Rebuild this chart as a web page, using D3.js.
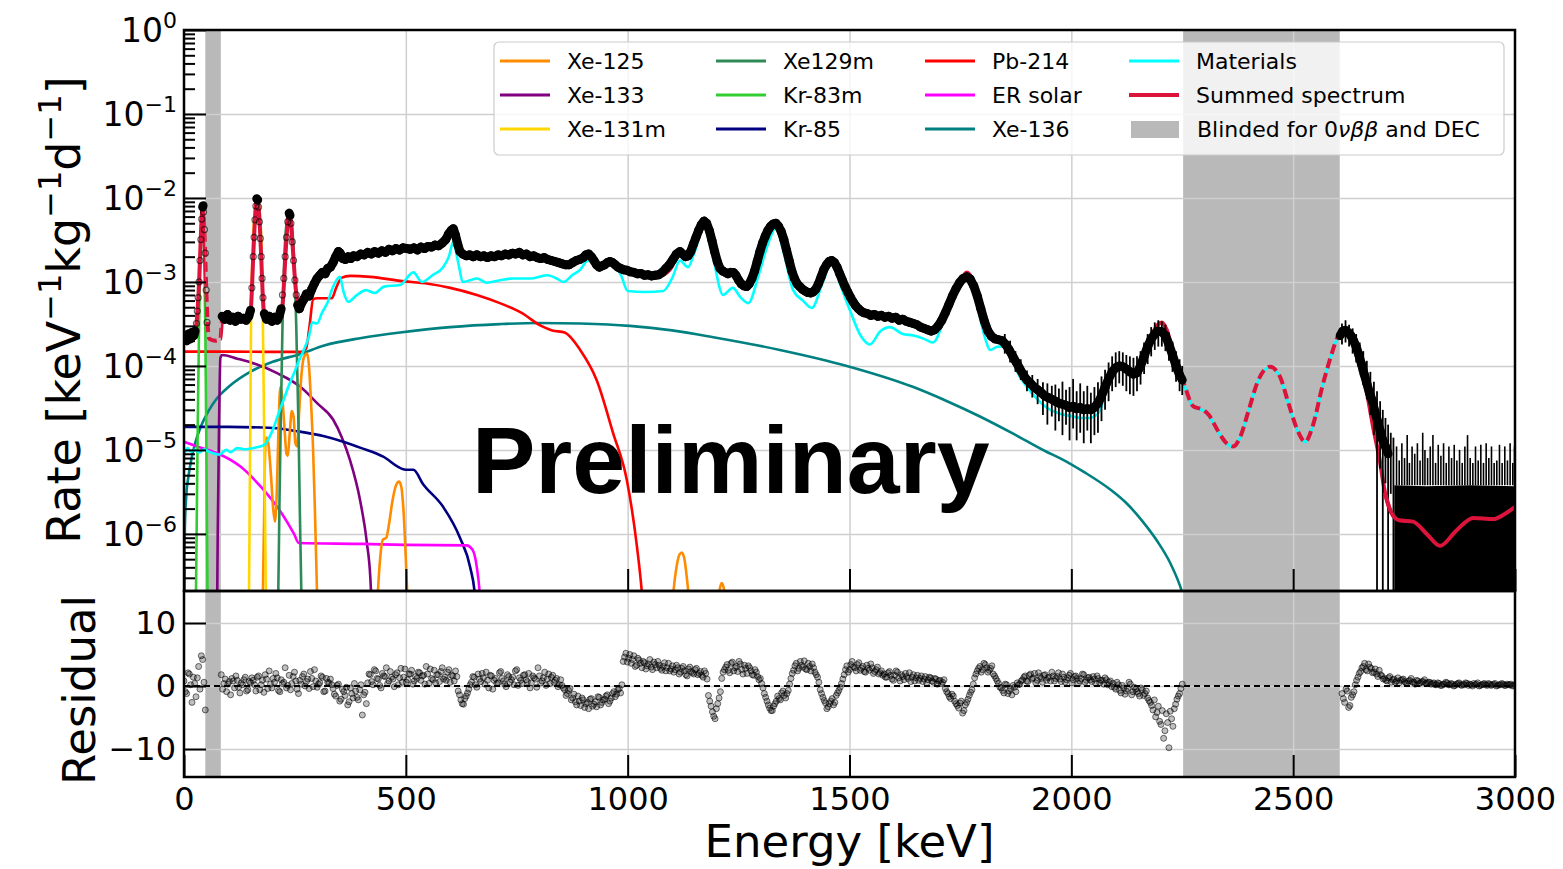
<!DOCTYPE html>
<html>
<head>
<meta charset="utf-8">
<script src="https://cdn.jsdelivr.net/npm/d3@7"></script>
<style>
  body { margin: 0; background: #fff; }
</style>
</head>
<body>
<svg id="chart" width="1563" height="869" font-family="DejaVu Sans, sans-serif"></svg>
<script>
// ---- values (energy in keV, rate in /keV/kg/d) ----
var xTicks = [0, 500, 1000, 1500, 2000, 2500, 3000];
var yDecades = [0, -1, -2, -3, -4, -5, -6];
var resTicks = [10, 0, -10];
var blindBands = [[48, 83], [2252, 2605]];

var legendNames = ["Xe-125", "Xe-133", "Xe-131m", "Xe129m", "Kr-83m", "Kr-85",
                   "Pb-214", "ER solar", "Xe-136", "Materials", "Summed spectrum", "Blinded"];
var legendColors = ["#ff8c00", "#800080", "#ffd700", "#2e8b57", "#32cd32", "#000080",
                    "#ff0000", "#ff00ff", "#008080", "#00ffff", "#dc143c", "#808080"];

var xe125 = [
  [[176,5e-8],[180,1e-6],[183,1e-5],[186,1.4e-5],[190,1.2e-5],[196,5e-6],[201,2e-6],[205,1.4e-6],[209,3e-6],[213,1.8e-5],[217,5.6e-5],[221,4.5e-5],[226,2e-5],[231,9e-6],[234,8.5e-6],[238,1.5e-5],[243,2.9e-5],[247,2.5e-5],[251,1.2e-5],[255,1.1e-5],[259,2.5e-5],[264,7e-5],[269,1.2e-4],[273,1.35e-4],[277,1.4e-4],[281,1.1e-4],[286,4e-5],[291,1e-5],[295,2e-6],[299,3e-7],[302,5e-8]],
  [[432,5e-8],[437,2e-7],[442,5e-7],[448,8.5e-7],[456,9e-7],[462,1.3e-6],[470,2.5e-6],[478,3.8e-6],[485,4.2e-6],[490,3.6e-6],[495,1.8e-6],[500,5e-7],[504,1.5e-7],[508,5e-8]],
  [[1095,5e-8],[1103,2e-7],[1110,4e-7],[1117,5.7e-7],[1122,6e-7],[1128,5e-7],[1135,2.5e-7],[1142,1e-7],[1148,5e-8]],
  [[1200,8e-8],[1207,2.1e-7],[1212,2.6e-7],[1217,2.2e-7],[1224,8e-8]]
];
var xe133 = [[74,5e-8],[76,1e-6],[79,2e-5],[82,1.25e-4],[86,1.35e-4],[120,1.22e-4],[151,1.1e-4],[210,8.2e-5],[263,5.6e-5],[300,3.6e-5],[336,2.3e-5],[356,1.4e-5],[374,7.6e-6],[397,2.5e-6],[412,8e-7],[420,3e-7],[426,5e-8]];
var xe131m = [[144,5e-8],[146.5,2e-7],[148,2e-6],[149.5,2e-5],[151,2.7e-4],[155,2.5e-3],[160,7.5e-3],[165,1e-2],[170,7.5e-3],[175,2.5e-3],[178,2.7e-4],[180.5,2e-5],[182.5,2e-6],[184.5,2e-7],[187,5e-8]];
var xe129m = [[208,5e-8],[212.5,2e-7],[215,2e-6],[218,2e-5],[222,3e-4],[227,2.5e-3],[232,5.5e-3],[237,7e-3],[242,5.5e-3],[247,2.5e-3],[253,3e-4],[258,2e-5],[261,2e-6],[264.5,2e-7],[268,5e-8]];
var kr83m = [[24,5e-8],[27,2e-7],[29,2e-6],[31,2e-5],[34,3e-4],[37,2.5e-3],[41,7.5e-3],[45,2.5e-3],[48,3e-4],[50,2e-5],[51.5,2e-6],[53,2e-7],[56,5e-8]];
var kr85 = [[0,1.88e-5],[100,1.88e-5],[200,1.82e-5],[261,1.65e-5],[316,1.45e-5],[359,1.25e-5],[400,1.05e-5],[449,8.3e-6],[494,5.9e-6],[505,5.8e-6],[517,5.8e-6],[539,3.9e-6],[584,2.1e-6],[622,9e-7],[645,4e-7],[656,1.8e-7],[662,5e-8]];
var pb214 = [[0,1.48e-4],[100,1.48e-4],[200,1.47e-4],[264,1.47e-4],[275,1.6e-4],[283,3e-4],[291,6.2e-4],[300,6.4e-4],[333,6.4e-4],[343,8.5e-4],[355,1.12e-3],[374,1.18e-3],[420,1.15e-3],[487,1.03e-3],[550,9.5e-4],[600,8.5e-4],[660,7.0e-4],[712,5.6e-4],[760,4.3e-4],[805,3.0e-4],[830,2.65e-4],[858,2.5e-4],[893,1.55e-4],[930,6.8e-5],[967,1.6e-5],[998,4.4e-6],[1021,7e-7],[1032,2e-7],[1040,5e-8]];
var erSolar = [[0,1.25e-5],[30,1.1e-5],[74,9.2e-6],[128,6.3e-6],[174,3.6e-6],[219,1.8e-6],[248,1.0e-6],[259,7.8e-7],[400,7.6e-7],[500,7.4e-7],[637,7.3e-7],[650,6.5e-7],[660,4e-7],[668,1.5e-7],[672,5e-8]];
var xe136 = [[0,2e-7],[2,1.2e-6],[5,2.8e-6],[10,4.8e-6],[15,7e-6],[25,1.2e-5],[38,1.9e-5],[55,2.9e-5],[74,4.1e-5],[100,5.6e-5],[151,8.6e-5],[200,1.12e-4],[261,1.38e-4],[316,1.75e-4],[400,2.15e-4],[487,2.5e-4],[600,2.9e-4],[712,3.15e-4],[800,3.25e-4],[893,3.2e-4],[1005,3.0e-4],[1100,2.65e-4],[1193,2.2e-4],[1343,1.55e-4],[1494,1.0e-4],[1644,5.6e-5],[1720,3.8e-5],[1794,2.5e-5],[1870,1.55e-5],[1944,9.5e-6],[1974,8.0e-6],[2030,5.4e-6],[2087,3.4e-6],[2125,2.3e-6],[2161,1.4e-6],[2195,8e-7],[2222,4.6e-7],[2245,2.4e-7],[2262,1.2e-7]];
var materials = [[0,8.5e-6],[8,1.05e-5],[15,9.5e-6],[25,1.0e-5],[35,9.3e-6],[45,1.02e-5],[55,9.6e-6],[70,9.0e-6],[80,8.8e-6],[95,1.0e-5],[105,9.4e-6],[120,1.05e-5],[140,1.02e-5],[160,1.06e-5],[181,1.15e-5],[192,1.4e-5],[203,1.9e-5],[214,2.8e-5],[225,4e-5],[236,5.8e-5],[248,8.2e-5],[259,1.15e-4],[270,1.55e-4],[282,2.3e-4],[289,3.3e-4],[300,3.2e-4],[311,4.3e-4],[323,5.6e-4],[335,8.5e-4],[351,1.15e-3],[360,7.5e-4],[370,5.8e-4],[390,7e-4],[410,8e-4],[430,7.4e-4],[451,8.8e-4],[487,9.2e-4],[517,1.3e-3],[536,1.0e-3],[560,1.2e-3],[584,1.5e-3],[597,2.0e-3],[607,3.0e-3],[617,1.8e-3],[629,1.0e-3],[645,1.05e-3],[660,1.1e-3],[683,9.8e-4],[712,1.05e-3],[742,1.1e-3],[780,1.1e-3],[818,1.2e-3],[840,1.1e-3],[855,1.0e-3],[875,1.2e-3],[893,1.4e-3],[911,1.8e-3],[937,1.45e-3],[965,1.6e-3],[985,1.2e-3],[1000,7.8e-4],[1040,7.6e-4],[1080,7.8e-4],[1100,1.1e-3],[1118,1.8e-3],[1136,1.5e-3],[1150,2.2e-3],[1172,4.5e-3],[1190,2.2e-3],[1215,7e-4],[1237,8.5e-4],[1255,6.5e-4],[1272,5.6e-4],[1295,1.2e-3],[1315,2.7e-3],[1334,4.4e-3],[1352,2.2e-3],[1373,8e-4],[1395,6e-4],[1415,4.9e-4],[1440,1.0e-3],[1460,1.7e-3],[1480,9e-4],[1501,4.6e-4],[1525,2.3e-4],[1546,1.8e-4],[1570,2.6e-4],[1591,2.9e-4],[1620,2.4e-4],[1644,2.3e-4],[1668,2.1e-4],[1688,1.9e-4],[1720,4.5e-4],[1745,8.5e-4],[1764,1.05e-3],[1785,6e-4],[1805,2.2e-4],[1817,1.55e-4],[1835,1.7e-4],[1850,1.7e-4],[1884,7.4e-5],[1915,4.5e-5],[1944,3.2e-5],[1975,2.7e-5],[2004,2.5e-5],[2019,2.4e-5],[2040,2.4e-5],[2060,2.7e-5],[2080,5.2e-5],[2095,8.2e-5],[2110,1.0e-4],[2125,9.3e-5],[2140,8e-5],[2150,8.3e-5],[2165,1.28e-4],[2180,2.15e-4],[2195,3.05e-4],[2204,3.25e-4],[2215,2.65e-4],[2230,1.38e-4],[2245,7.9e-5],[2252,6.4e-5],[2275,3.25e-5],[2297,2.95e-5],[2310,2.55e-5],[2330,1.68e-5],[2350,1.19e-5],[2365,1.09e-5],[2380,1.38e-5],[2400,2.95e-5],[2420,6.4e-5],[2448,9.7e-5],[2470,7.4e-5],[2490,3.45e-5],[2510,1.68e-5],[2527,1.24e-5],[2545,1.97e-5],[2565,5.4e-5],[2585,1.28e-4],[2600,2.17e-4],[2612,2.55e-4],[2630,2.15e-4],[2644,1.37e-4],[2655,8.3e-5],[2666,4.7e-5],[2680,1.85e-5],[2695,7.4e-6],[2707,3.0e-6],[2721,1.75e-6],[2739,1.4e-6],[2770,1.35e-6],[2801,9.7e-7],[2831,7e-7],[2868,1.07e-6],[2906,1.5e-6],[2951,1.45e-6],[2975,1.65e-6],[3000,2.05e-6]];
var summed = [[0,2.1e-4],[10,2.2e-4],[20,2.4e-4],[27,2.9e-4],[31,5e-4],[34,1e-3],[37,2.6e-3],[40,6e-3],[42,8e-3],[44,6.6e-3],[47,2.8e-3],[50,9e-4],[53,3.4e-4],[57,2.1e-4],[70,2.0e-4],[82,2.1e-4],[86,3.6e-4],[95,3.7e-4],[120,3.7e-4],[145,3.8e-4],[150,4.3e-4],[153,8e-4],[156,2e-3],[159,4.5e-3],[162,8e-3],[165,1e-2],[168,8e-3],[171,4.5e-3],[174,2e-3],[177,8e-4],[180,4.5e-4],[185,3.8e-4],[200,3.7e-4],[215,3.9e-4],[221,4.6e-4],[225,9e-4],[229,2.2e-3],[233,4.6e-3],[237,6.8e-3],[241,5e-3],[245,2.6e-3],[250,1.1e-3],[255,6e-4],[260,4.8e-4],[270,6e-4],[286,7.5e-4],[300,1.1e-3],[323,1.4e-3],[340,1.9e-3],[350,2.3e-3],[360,1.9e-3],[380,1.95e-3],[406,2.1e-3],[451,2.3e-3],[502,2.5e-3],[561,2.7e-3],[590,3.2e-3],[607,4.2e-3],[620,2.7e-3],[640,2.1e-3],[705,2.0e-3],[757,2.15e-3],[818,1.9e-3],[863,1.6e-3],[893,1.8e-3],[911,2.1e-3],[937,1.5e-3],[965,1.7e-3],[985,1.45e-3],[1005,1.35e-3],[1073,1.2e-3],[1095,1.4e-3],[1118,2.2e-3],[1136,1.9e-3],[1150,2.6e-3],[1160,3.9e-3],[1172,5.2e-3],[1185,3.9e-3],[1200,2e-3],[1215,1.35e-3],[1235,1.25e-3],[1255,1.0e-3],[1268,9e-4],[1285,1.3e-3],[1300,2.3e-3],[1318,3.9e-3],[1334,5e-3],[1350,3.6e-3],[1365,1.7e-3],[1380,9.5e-4],[1400,8e-4],[1418,7.6e-4],[1435,1.1e-3],[1448,1.6e-3],[1460,1.85e-3],[1475,1.4e-3],[1494,8e-4],[1515,5.5e-4],[1531,4.3e-4],[1560,3.9e-4],[1591,3.8e-4],[1620,3.5e-4],[1644,3.2e-4],[1670,2.8e-4],[1688,2.5e-4],[1710,3.5e-4],[1730,6e-4],[1750,1.0e-3],[1764,1.3e-3],[1778,1.05e-3],[1795,5e-4],[1810,2.4e-4],[1830,2.1e-4],[1846,2.0e-4],[1865,1.4e-4],[1884,9e-5],[1910,6e-5],[1944,4.2e-5],[1975,3.5e-5],[2000,3.1e-5],[2030,2.9e-5],[2049,3.0e-5],[2065,3.6e-5],[2080,5.3e-5],[2095,8.4e-5],[2110,1.02e-4],[2125,9.5e-5],[2140,8.2e-5],[2150,8.5e-5],[2165,1.3e-4],[2180,2.2e-4],[2195,3.1e-4],[2204,3.3e-4],[2215,2.7e-4],[2230,1.4e-4],[2245,8e-5],[2252,6.5e-5],[2275,3.3e-5],[2297,3.0e-5],[2310,2.6e-5],[2330,1.7e-5],[2350,1.2e-5],[2365,1.1e-5],[2380,1.4e-5],[2400,3e-5],[2420,6.5e-5],[2448,9.8e-5],[2470,7.5e-5],[2490,3.5e-5],[2510,1.7e-5],[2527,1.25e-5],[2545,2e-5],[2565,5.5e-5],[2585,1.3e-4],[2600,2.2e-4],[2612,2.6e-4],[2630,2.2e-4],[2644,1.4e-4],[2655,8.5e-5],[2666,4.8e-5],[2680,1.9e-5],[2695,7.6e-6],[2707,3.1e-6],[2721,1.8e-6],[2739,1.45e-6],[2770,1.4e-6],[2801,1.0e-6],[2831,7.2e-7],[2868,1.1e-6],[2906,1.55e-6],[2951,1.5e-6],[2975,1.7e-6],[3000,2.1e-6]];

// measured spectrum (black points)
var dataPts = [[2,2.3e-4],[6,2.0e-4],[10,2.4e-4],[14,2.1e-4],[18,2.5e-4],[22,2.3e-4],[25,2.6e-4],[28,3.2e-4],[30,4.5e-4],[32,6.5e-4],[34,1.0e-3],[36,1.8e-3],[38,3.2e-3],[40,5.6e-3],[42,7.8e-3],[43,8.1e-3],[44,6.8e-3],[46,4.2e-3],[48,2.2e-3],[50,8e-4],[52,3.3e-4],
  [86,3.9e-4],[92,3.6e-4],[98,4.1e-4],[104,3.5e-4],[110,3.8e-4],[116,3.4e-4],[122,3.9e-4],[128,3.6e-4],[134,3.7e-4],[140,3.5e-4],[146,3.9e-4],[150,4.6e-4],[153,8.5e-4],[156,2.0e-3],[158,3.4e-3],[160,5.5e-3],[162,8e-3],[164,9.8e-3],[166,9.5e-3],[168,7.8e-3],[170,5.2e-3],[172,3.3e-3],[174,2e-3],[176,1.1e-3],[178,6.5e-4],[181,4.2e-4],[186,3.6e-4],[192,3.9e-4],[198,3.4e-4],[204,3.8e-4],[210,3.5e-4],[215,4.0e-4],[219,4.8e-4],[222,7e-4],[225,1.1e-3],[228,2.0e-3],[231,3.4e-3],[234,5.2e-3],[237,6.6e-3],[239,6.2e-3],[241,5e-3],[244,3e-3],[247,1.8e-3],[250,1.05e-3],[253,7e-4],[256,5.3e-4],[260,4.8e-4],[265,5.6e-4],[270,6.2e-4],[276,7.2e-4],[282,6.8e-4],[288,8.2e-4],[294,9.6e-4],[300,1.1e-3],[306,1.2e-3],[312,1.3e-3],[318,1.25e-3],[324,1.45e-3],[330,1.5e-3],[336,1.7e-3],[342,2.0e-3],[348,2.3e-3],[352,2.2e-3],[358,1.9e-3],[364,1.85e-3],[370,2.0e-3],[376,1.9e-3],[382,2.05e-3],[390,2.0e-3],[398,2.15e-3],[406,2.1e-3],[414,2.25e-3],[422,2.15e-3],[430,2.3e-3],[438,2.2e-3],[446,2.35e-3],[454,2.25e-3],[462,2.45e-3],[470,2.35e-3],[478,2.5e-3],[486,2.4e-3],[494,2.55e-3],[502,2.5e-3],[510,2.45e-3],[518,2.55e-3],[526,2.4e-3],[534,2.6e-3],[542,2.5e-3],[550,2.65e-3],[558,2.6e-3],[566,2.75e-3],[574,2.7e-3],[582,2.9e-3],[590,3.2e-3],[596,3.7e-3],[602,4.1e-3],[607,4.3e-3],[612,3.6e-3],[617,2.8e-3],[622,2.3e-3],[628,2.15e-3],[636,2.05e-3],[644,2.1e-3],[652,2.0e-3],[660,2.1e-3],[668,2.0e-3],[676,2.05e-3],[684,1.95e-3],[692,2.05e-3],[700,2.0e-3],[708,2.1e-3],[716,2.05e-3],[724,2.15e-3],[732,2.1e-3],[740,2.2e-3],[748,2.15e-3],[756,2.25e-3],[764,2.1e-3],[772,2.15e-3],[780,2.0e-3],[788,2.05e-3],[796,1.95e-3],[804,1.9e-3],[812,1.95e-3],[820,1.85e-3],[828,1.8e-3],[836,1.75e-3],[844,1.7e-3],[852,1.65e-3],[860,1.6e-3],[868,1.6e-3],[876,1.7e-3],[884,1.8e-3],[892,1.85e-3],[900,1.95e-3],[906,2.1e-3],[912,2.15e-3],[918,2.0e-3],[924,1.8e-3],[930,1.6e-3],[936,1.5e-3],[942,1.55e-3],[948,1.6e-3],[954,1.7e-3],[960,1.75e-3],[966,1.7e-3],[972,1.6e-3],[978,1.5e-3],[984,1.45e-3],[990,1.4e-3],[998,1.38e-3],[1006,1.32e-3],[1014,1.3e-3],[1022,1.25e-3],[1030,1.26e-3],[1038,1.2e-3],[1046,1.22e-3],[1054,1.18e-3],[1062,1.2e-3],[1070,1.22e-3],[1078,1.3e-3],[1086,1.45e-3],[1094,1.6e-3],[1102,1.85e-3],[1110,2.15e-3],[1118,2.3e-3],[1124,2.15e-3],[1130,2.0e-3],[1136,2.05e-3],[1142,2.3e-3],[1148,2.8e-3],[1154,3.4e-3],[1160,4.1e-3],[1166,4.8e-3],[1172,5.3e-3],[1178,5.0e-3],[1184,4.1e-3],[1190,3.1e-3],[1196,2.3e-3],[1202,1.75e-3],[1208,1.45e-3],[1214,1.35e-3],[1220,1.3e-3],[1226,1.25e-3],[1232,1.3e-3],[1238,1.3e-3],[1244,1.2e-3],[1250,1.05e-3],[1256,9.5e-4],[1262,9e-4],[1268,8.8e-4],[1274,9.5e-4],[1280,1.1e-3],[1286,1.35e-3],[1292,1.75e-3],[1298,2.3e-3],[1304,2.9e-3],[1310,3.5e-3],[1316,4.1e-3],[1322,4.6e-3],[1328,4.9e-3],[1334,5.0e-3],[1340,4.6e-3],[1346,4.0e-3],[1352,3.2e-3],[1358,2.4e-3],[1364,1.8e-3],[1370,1.35e-3],[1376,1.1e-3],[1382,9.5e-4],[1388,8.8e-4],[1394,8.2e-4],[1400,7.8e-4],[1406,7.5e-4],[1412,7.4e-4],[1418,7.6e-4],[1424,8.2e-4],[1430,9.5e-4],[1436,1.15e-3],[1442,1.4e-3],[1448,1.6e-3],[1454,1.75e-3],[1460,1.8e-3],[1466,1.7e-3],[1472,1.5e-3],[1478,1.25e-3],[1484,1.05e-3],[1490,8.8e-4],[1496,7.6e-4],[1502,6.6e-4],[1508,5.8e-4],[1514,5.2e-4],[1520,4.8e-4],[1526,4.5e-4],[1532,4.3e-4],[1540,4.2e-4],[1548,4.0e-4],[1556,4.1e-4],[1564,3.9e-4],[1572,4.0e-4],[1580,3.8e-4],[1588,3.9e-4],[1596,3.7e-4],[1604,3.8e-4],[1612,3.5e-4],[1620,3.6e-4],[1628,3.4e-4],[1636,3.3e-4],[1644,3.2e-4],[1652,3.1e-4],[1660,2.9e-4],[1668,2.8e-4],[1676,2.7e-4],[1684,2.6e-4],[1692,2.7e-4],[1700,3.0e-4],[1708,3.5e-4],[1716,4.3e-4],[1724,5.4e-4],[1732,6.8e-4],[1740,8.3e-4],[1748,9.8e-4],[1756,1.1e-3],[1764,1.15e-3],[1772,1.08e-3],[1780,9e-4],[1788,6.8e-4],[1796,4.8e-4],[1804,3.4e-4],[1812,2.6e-4],[1820,2.25e-4],[1828,2.1e-4],[1836,2.05e-4],[1844,2.0e-4],[1852,1.8e-4],[1860,1.55e-4],[1868,1.3e-4],[1876,1.1e-4],[1884,9.2e-5],[1892,7.8e-5],[1900,6.8e-5],[1908,6.2e-5],[1916,5.6e-5],[1924,5.2e-5],[1932,4.8e-5],[1940,4.4e-5],[1948,4.2e-5],[1956,4.0e-5],[1964,3.8e-5],[1972,3.6e-5],[1980,3.5e-5],[1988,3.4e-5],[1996,3.2e-5],[2004,3.3e-5],[2012,3.1e-5],[2020,3.2e-5],[2028,3.0e-5],[2036,3.1e-5],[2044,3.0e-5],[2052,3.2e-5],[2060,3.6e-5],[2068,4.4e-5],[2076,5.6e-5],[2084,7e-5],[2092,8.5e-5],[2100,9.5e-5],[2108,1.0e-4],[2116,9.8e-5],[2124,9.2e-5],[2132,8.5e-5],[2140,8.0e-5],[2148,8.3e-5],[2156,1.0e-4],[2164,1.3e-4],[2172,1.7e-4],[2180,2.1e-4],[2188,2.4e-4],[2196,2.6e-4],[2204,2.55e-4],[2212,2.3e-4],[2220,1.8e-4],[2228,1.35e-4],[2236,1.0e-4],[2244,7.8e-5],[2250,6.8e-5],
  [2606,2.3e-4],[2612,2.6e-4],[2618,2.65e-4],[2624,2.5e-4],[2630,2.3e-4],[2636,2.0e-4],[2642,1.7e-4],[2648,1.35e-4],[2654,1.05e-4],[2660,8e-5],[2666,6.2e-5],[2672,4.8e-5],[2678,3.9e-5],[2684,2.9e-5],[2690,2.2e-5],[2696,1.7e-5],[2702,1.3e-5],[2708,1.1e-5],[2714,9e-6]];

// error bars [energy, low, high] where the data get noisy
var errBars = [[1850,1.4e-4,2.4e-4],[1862,1.1e-4,2.0e-4],[1874,8.5e-5,1.5e-4],[1886,6.8e-5,1.2e-4],
  [1900,5.0e-5,8.8e-5],[1912,4.2e-5,7.8e-5],[1924,3.5e-5,7.0e-5],[1936,2.6e-5,6.4e-5],[1946,2.0e-5,6.2e-5],[1956,2.5e-5,5.8e-5],[1964,1.7e-5,6.0e-5],[1972,2.2e-5,5.4e-5],[1980,1.5e-5,6.5e-5],[1988,2.0e-5,5.2e-5],[1996,1.3e-5,5.6e-5],[2004,1.8e-5,7.0e-5],[2012,1.3e-5,5.0e-5],[2020,1.6e-5,6.2e-5],[2028,1.2e-5,5.0e-5],[2036,1.7e-5,5.8e-5],[2044,1.2e-5,4.8e-5],[2052,1.5e-5,5.6e-5],[2060,1.6e-5,6.4e-5],[2068,2.2e-5,7.5e-5],[2076,3.0e-5,9.0e-5],[2084,3.8e-5,1.1e-4],[2092,5.0e-5,1.3e-4],[2100,5.6e-5,1.45e-4],[2108,6.2e-5,1.5e-4],[2116,5.8e-5,1.45e-4],[2124,5.0e-5,1.35e-4],[2132,4.6e-5,1.3e-4],[2140,4.4e-5,1.25e-4],[2148,5.0e-5,1.3e-4],[2156,6.0e-5,1.5e-4],[2164,8.0e-5,1.9e-4],[2172,1.05e-4,2.4e-4],[2180,1.3e-4,2.9e-4],[2188,1.55e-4,3.3e-4],[2196,1.7e-4,3.5e-4],[2204,1.7e-4,3.4e-4],[2212,1.5e-4,3.1e-4],[2220,1.15e-4,2.5e-4],[2228,8.5e-5,1.95e-4],[2236,6.5e-5,1.5e-4],[2244,5.0e-5,1.2e-4],[2250,4.5e-5,1.0e-4],
  [2610,1.8e-4,3.2e-4],[2618,1.9e-4,3.5e-4],[2626,1.7e-4,3.1e-4],[2634,1.4e-4,2.8e-4],[2642,1.1e-4,2.4e-4],[2650,8.5e-5,1.9e-4],[2658,6e-5,1.5e-4],[2666,4e-5,1.15e-4],[2674,2.6e-5,8.5e-5],[2682,1.5e-5,6.5e-5],[2689,1e-7,5e-5],[2696,6e-6,3.8e-5],[2702,1e-7,3.0e-5],[2708,4e-6,2.4e-5],[2714,1e-7,2.0e-5],[2720,3e-6,1.6e-5],[2726,1e-7,1.4e-5]];

// low-count tail above 2.7 MeV: solid error-bar band and the taller bars
var tailTop = [[2728,3.8e-6],[2800,3.7e-6],[2900,3.8e-6],[3000,3.7e-6]];
var tailSpikes = [[2733,1.1e-5],[2739,7.5e-6],[2745,1.2e-5],[2751,8e-6],[2757,1.5e-5],[2762,7e-6],[2768,1.1e-5],[2774,9e-6],[2780,1.2e-5],[2786,7.5e-6],[2792,1.6e-5],[2797,1.0e-5],[2803,8e-6],[2809,1.1e-5],[2815,1.5e-5],[2821,7e-6],[2827,1.15e-5],[2833,8.5e-6],[2839,1.2e-5],[2845,7e-6],[2851,1.1e-5],[2857,8e-6],[2863,1.15e-5],[2869,7.5e-6],[2875,1.0e-5],[2881,7e-6],[2887,1.1e-5],[2893,1.5e-5],[2899,8e-6],[2905,7e-6],[2911,1.1e-5],[2917,7.5e-6],[2923,1.15e-5],[2929,7e-6],[2935,1.2e-5],[2941,8e-6],[2947,1.1e-5],[2953,7e-6],[2959,7.5e-6],[2965,1.15e-5],[2971,7e-6],[2977,1.1e-5],[2983,7.5e-6],[2989,1.2e-5],[2995,7e-6],[2999,1.1e-5]];

// residuals in 6 keV bins, two interleaved sets, stretches outside the blinded windows
var resStep = 6;
var resLowStart = 0, resMidStart = 84, resHighStart = 2610;
var resLow = [0.8,-1.2,1.9,-2.6,0.4,1.3,-0.5,4.2,-3.8];
var resMid = [1.8,0.4,-0.9,0.7,1.2,-0.3,0.9,-1.1,0.2,1.4,-0.6,0.5,
  0.9,-0.8,1.6,0.2,-1.0,1.1,2.4,-0.3,0.6,1.3,-0.9,0.4,2.9,0.1,-0.6,1.5,0.8,-1.2,0.3,1.9,0.7,-0.4,1.2,2.6,-0.2,0.5,1.4,-0.8,0.6,1.1,
  -0.4,-1.6,0.3,-2.1,-0.9,-0.2,-2.5,-1.2,0.4,-1.8,-0.6,-4.6,-1.0,
  0.5,1.8,0.2,2.4,1.1,-0.3,1.6,2.9,0.8,1.4,-0.1,2.1,1.3,0.6,2.7,1.0,1.9,0.3,1.5,2.2,0.9,1.7,3.1,0.4,1.2,2.5,1.8,0.7,2.9,1.4,2.2,0.6,1.6,2.4,
  -0.8,-2.2,-2.9,-1.6,-0.5,
  0.6,1.4,-0.2,1.1,2.0,0.3,0.9,1.7,-0.5,1.2,0.5,2.3,0.8,-0.1,1.5,1.0,0.2,2.6,1.3,0.4,1.8,0.7,-0.3,1.6,1.1,2.9,0.5,1.3,0.1,1.9,1.4,0.6,1.2,0.2,
  0.1,-0.6,-1.2,-0.4,-1.9,-2.5,-1.6,-3.1,-2.2,-2.8,-3.6,-2.0,-2.9,-3.3,-1.8,-2.6,-2.1,-1.4,-2.4,-1.2,-1.7,-0.6,-1.1,
  3.9,5.2,4.4,3.6,4.8,3.3,4.1,2.9,3.7,3.2,4.2,2.6,3.4,3.9,2.8,3.1,2.4,3.6,2.7,2.2,3.3,1.9,2.8,2.4,1.6,3.0,2.1,2.6,1.8,2.3,1.4,2.0,
  -1.5,-3.2,-4.8,-3.6,-1.9,
  1.2,2.6,3.4,2.1,3.8,2.9,2.3,3.5,1.9,2.8,3.2,2.4,1.7,2.2,1.0,0.4,
  -1.2,-2.4,-3.5,-3.9,-2.8,-1.6,-2.2,-0.8,
  -1.9,-0.7,
  1.2,2.5,3.6,2.8,3.3,4.0,2.6,3.1,3.5,2.2,1.4,
  -0.6,-1.8,-2.7,-3.3,-2.4,-3.0,-1.5,-0.7,0.4,
  1.8,3.2,2.6,3.9,2.9,3.4,2.5,3.1,2.2,2.8,3.5,2.0,2.6,1.9,2.4,
  1.9,1.4,2.3,1.1,1.7,2.2,0.8,1.5,2.0,1.2,0.7,1.8,1.3,0.9,1.6,1.1,0.5,1.4,0.8,1.2,0.3,0.9,0.6,
  -0.4,-1.2,-2.0,-1.6,-2.8,-3.5,-2.4,-3.9,-2.6,-1.5,-0.6,
  1.3,2.4,3.1,2.6,3.4,2.2,2.8,1.9,1.2,0.4,
  -0.3,-1.1,0.2,-0.8,-1.4,-0.2,0.5,0.3,
  1.0,1.6,0.7,1.9,1.3,0.5,2.1,1.2,1.7,0.9,1.4,2.2,0.8,1.5,1.1,1.9,0.6,1.3,2.0,1.0,1.6,0.4,1.2,1.8,0.9,1.4,0.7,1.1,1.6,0.5,0.9,1.3,0.2,0.8,
  0.4,-0.5,0.2,-1.1,-0.3,-0.8,0.6,-1.4,-0.2,-0.9,-1.6,-0.6,-1.2,-1.9,
  -2.6,-3.8,-4.9,-3.2,-6.1,-8.3,-4.4,-9.8,-5.2,-3.6,-2.1,-1.2,0.3];
var resHigh = [-1.2,-2.6,-0.8,-3.1,-1.4,0.2,
  1.4,2.3,3.1,2.6,3.5,2.8,2.2,1.9,2.5,1.6,
  1.2,0.8,1.5,1.0,0.6,1.3,0.9,1.1,0.5,0.8,1.2,0.6,0.9,0.4,0.7,1.0,0.5,0.6,
  0.4,0.2,0.5,0.1,0.3,0.6,0.2,0.4,0.0,0.3,0.5,0.1,0.2,0.4,0.3,0.0,0.2,0.5,0.1,0.3,0.2,0.4,0.1,0.3,0.0,0.2,0.4,0.1,0.3,0.2,0.0,0.2];

var resLow2Start = 3, resMid2Start = 87, resHigh2Start = 2613;
var resLow2 = [-0.9,2.1,0.2,1.4,-1.7,3.1,4.8,0.6];
var resMid2 = [-0.5,1.1,0.3,-1.4,0.8,1.6,-0.2,0.5,1.0,-0.8,0.7,1.3,
  0.2,1.4,-0.6,0.9,1.8,-0.4,0.3,1.2,2.0,-0.7,1.0,0.6,-0.3,1.7,0.4,2.2,-0.5,0.9,1.5,0.0,1.1,2.3,-0.1,0.8,0.3,1.6,-0.9,1.2,0.5,0.2,
  -1.3,0.1,-2.4,-0.5,-1.5,-3.0,-0.3,-1.9,-0.8,-2.2,0.2,-1.4,-2.8,
  1.9,0.7,2.6,1.2,0.1,2.0,1.5,0.4,2.3,1.1,1.8,0.2,2.8,1.4,0.6,1.9,2.5,0.8,1.2,2.1,1.6,0.3,1.9,2.7,1.0,0.5,1.8,2.3,1.1,0.9,2.6,1.7,0.8,1.5,
  -1.4,-2.8,-2.0,-1.1,0.2,
  1.5,0.2,1.9,0.7,1.3,2.2,-0.3,1.6,0.9,0.4,2.1,1.2,0.3,1.8,0.6,1.4,2.4,0.1,0.9,1.7,1.0,2.0,0.5,1.3,-0.2,1.6,0.8,2.2,1.1,0.4,1.7,0.9,-0.1,1.0,
  -0.3,-1.5,-0.7,-2.2,-1.3,-3.0,-2.4,-1.9,-3.4,-2.6,-2.1,-3.2,-2.5,-1.7,-3.0,-2.2,-1.6,-2.8,-1.9,-0.9,-1.3,-0.4,0.2,
  4.6,3.8,5.0,4.2,3.1,4.4,3.6,3.9,2.7,3.5,3.0,3.8,2.9,3.3,2.5,3.7,2.9,2.4,3.2,2.6,2.9,2.2,3.1,1.8,2.7,2.3,1.9,2.8,2.0,1.7,2.4,1.1,
  -2.4,-4.1,-5.2,-2.8,-0.9,
  2.2,3.0,2.5,3.6,2.4,3.1,3.9,2.6,3.3,2.0,2.9,1.8,2.6,1.5,1.2,-0.3,
  -1.8,-3.0,-3.9,-3.2,-2.4,-2.0,-1.1,-1.5,
  -1.2,0.3,
  2.0,3.2,2.4,3.9,3.0,2.7,3.6,2.4,2.9,1.8,0.6,
  -1.2,-2.3,-3.6,-2.8,-2.0,-2.6,-1.1,-0.2,1.1,
  2.6,2.2,3.4,3.0,2.4,3.7,2.8,2.3,3.3,2.5,2.9,2.3,3.0,2.1,1.7,
  1.4,2.1,1.7,0.9,2.4,1.3,1.8,1.0,1.5,2.1,1.4,0.8,1.7,1.2,0.7,1.5,1.0,1.3,0.6,1.1,0.8,0.4,1.0,
  -0.9,-1.7,-1.3,-2.4,-3.1,-2.7,-4.3,-3.0,-2.1,-1.0,0.3,
  1.9,2.8,2.2,3.6,2.9,2.5,3.2,1.6,0.8,-0.2,
  -0.7,0.3,-1.2,-0.4,0.1,-0.9,0.2,0.8,
  1.4,0.8,1.7,1.1,2.0,0.9,1.5,0.6,1.8,1.3,0.8,1.6,1.2,2.1,0.7,1.4,1.0,1.7,0.5,1.5,1.2,0.8,1.9,0.6,1.3,1.0,1.5,0.4,1.2,0.9,0.3,1.0,0.6,-0.1,
  -0.2,0.6,-0.7,0.1,-1.3,-0.4,0.3,-0.9,-0.5,-1.2,-0.3,-1.5,-0.8,-2.3,
  -3.1,-2.2,-4.2,-5.6,-3.9,-7.1,-5.8,-4.0,-6.4,-2.9,-1.6,-0.4];
var resHigh2 = [-2.0,-0.5,-3.4,-1.8,-0.9,0.9,
  2.0,2.9,3.6,2.4,3.0,2.1,2.7,1.5,1.8,1.1,
  0.9,1.3,0.6,1.1,0.8,0.5,1.0,0.7,0.4,0.9,0.6,0.3,0.8,0.5,0.7,0.4,0.6,
  0.3,0.5,0.2,0.4,0.1,0.3,0.5,0.2,0.3,0.1,0.4,0.2,0.3,0.5,0.1,0.2,0.4,0.3,0.0,0.2,0.4,0.1,0.3,0.2,0.4,0.1,0.2,0.3,0.1,0.2,0.3,0.1];

// ---- layout (window.top is reserved, so prefixed names) ----
var pLeft = 184, pRight = 1515, pTop = 30, pMid = 591, pBottom = 777;
var svg = d3.select("#chart");

var xScale = d3.scaleLinear().domain([0, 3000]).range([pLeft, pRight]);
var yScale = d3.scaleLog().domain([Math.pow(10, -6.68), 1]).range([pMid, pTop]);
var rScale = d3.scaleLinear().domain([-14.44, 15.08]).range([pBottom, pMid]);

var defs = svg.append("defs");
defs.append("clipPath").attr("id", "clipMain").append("rect")
    .attr("x", pLeft).attr("y", pTop).attr("width", pRight - pLeft).attr("height", pMid - pTop);
defs.append("clipPath").attr("id", "clipRes").append("rect")
    .attr("x", pLeft).attr("y", pMid).attr("width", pRight - pLeft).attr("height", pBottom - pMid);

// summed spectrum is dashed inside the blinded windows, solid elsewhere
var blindClip = defs.append("clipPath").attr("id", "clipBlind");
var openClip = defs.append("clipPath").attr("id", "clipOpen");
var edges = [0];
blindBands.forEach(b => { edges.push(b[0]); edges.push(b[1]); });
edges.push(3000);
blindBands.forEach(b => {
  blindClip.append("rect").attr("x", xScale(b[0])).attr("y", pTop)
      .attr("width", xScale(b[1]) - xScale(b[0])).attr("height", pMid - pTop);
});
for (var i = 0; i < edges.length; i += 2) {
  openClip.append("rect").attr("x", xScale(edges[i])).attr("y", pTop)
      .attr("width", xScale(edges[i + 1]) - xScale(edges[i])).attr("height", pMid - pTop);
}

var gridColor = "#cfcfcf";

// ---------- main panel ----------
var main = svg.append("g").attr("clip-path", "url(#clipMain)");

main.selectAll(".band").data(blindBands).enter().append("rect")
    .attr("x", d => xScale(d[0])).attr("y", pTop)
    .attr("width", d => xScale(d[1]) - xScale(d[0])).attr("height", pMid - pTop)
    .attr("fill", "#808080").attr("fill-opacity", 0.55);

var gx = main.append("g").attr("transform", "translate(0," + pMid + ")")
    .call(d3.axisBottom(xScale).tickValues(xTicks.slice(1, -1)).tickSize(-(pMid - pTop)).tickFormat(""));
var gy = main.append("g").attr("transform", "translate(" + pLeft + ",0)")
    .call(d3.axisLeft(yScale).tickValues(yDecades.slice(1).map(d => Math.pow(10, d)))
          .tickSize(-(pRight - pLeft)).tickFormat(""));
[gx, gy].forEach(g => {
  g.select(".domain").remove();
  g.selectAll("line").attr("stroke", gridColor).attr("stroke-width", 1.5);
});

var line = d3.line()
    .x(d => xScale(d[0]))
    .y(d => yScale(d[1]))
    .curve(d3.curveMonotoneX);

function drawCurve(pts, color, width) {
  main.append("path").datum(pts)
      .attr("d", line).attr("fill", "none")
      .attr("stroke", color).attr("stroke-width", width)
      .attr("stroke-linejoin", "round");
}

drawCurve(xe136, "#008080", 2.6);
drawCurve(pb214, "#ff0000", 2.6);
drawCurve(xe133, "#800080", 2.6);
drawCurve(kr85, "#000080", 2.6);
drawCurve(erSolar, "#ff00ff", 2.6);
xe125.forEach(seg => drawCurve(seg, "#ff8c00", 2.6));
drawCurve(xe131m, "#ffd700", 2.6);
drawCurve(xe129m, "#2e8b57", 2.6);
drawCurve(kr83m, "#32cd32", 2.6);
drawCurve(materials, "#00ffff", 2.6);

// summed spectrum
main.append("path").datum(summed).attr("d", line)
    .attr("fill", "none").attr("stroke", "#dc143c").attr("stroke-width", 4)
    .attr("clip-path", "url(#clipOpen)");
main.append("path").datum(summed).attr("d", line)
    .attr("fill", "none").attr("stroke", "#dc143c").attr("stroke-width", 4)
    .attr("stroke-dasharray", "10,5")
    .attr("clip-path", "url(#clipBlind)");

// data: dense stretches merge into a thick band, steep peaks only show markers
var dataG = main.append("g");
var segs = [];
for (var k = 1; k < dataPts.length; k++) {
  var a = dataPts[k - 1], b = dataPts[k];
  var dx = xScale(b[0]) - xScale(a[0]);
  var dy = yScale(b[1]) - yScale(a[1]);
  if (dx < 12 && Math.abs(dy) < 5 * dx) segs.push([a, b]);
}
dataG.selectAll(".seg").data(segs).enter().append("line")
    .attr("x1", d => xScale(d[0][0])).attr("y1", d => yScale(d[0][1]))
    .attr("x2", d => xScale(d[1][0])).attr("y2", d => yScale(d[1][1]))
    .attr("stroke", "#000").attr("stroke-width", 9).attr("stroke-linecap", "round");

dataG.selectAll(".err").data(errBars).enter().append("line")
    .attr("x1", d => xScale(d[0])).attr("x2", d => xScale(d[0]))
    .attr("y1", d => yScale(d[1])).attr("y2", d => yScale(d[2]))
    .attr("stroke", "#000").attr("stroke-width", 1.8);

dataG.append("path").datum(tailTop)
    .attr("d", d3.area().x(d => xScale(d[0])).y0(pMid).y1(d => yScale(d[1])))
    .attr("fill", "#000");

dataG.selectAll(".spike").data(tailSpikes).enter().append("line")
    .attr("x1", d => xScale(d[0])).attr("x2", d => xScale(d[0]))
    .attr("y1", yScale(tailTop[0][1])).attr("y2", d => yScale(d[1]))
    .attr("stroke", "#000").attr("stroke-width", 1.6);

dataG.selectAll(".pt").data(dataPts).enter().append("circle")
    .attr("cx", d => xScale(d[0])).attr("cy", d => yScale(d[1]))
    .attr("r", 3).attr("fill", "none")
    .attr("stroke", "#000").attr("stroke-opacity", 0.6).attr("stroke-width", 1.2);

// summed spectrum again on the tail, above the black error bars
main.append("path").datum(summed.filter(d => d[0] >= 2700)).attr("d", line)
    .attr("fill", "none").attr("stroke", "#dc143c").attr("stroke-width", 4);

// ---------- residual panel ----------
var res = svg.append("g").attr("clip-path", "url(#clipRes)");

res.selectAll(".band").data(blindBands).enter().append("rect")
    .attr("x", d => xScale(d[0])).attr("y", pMid)
    .attr("width", d => xScale(d[1]) - xScale(d[0])).attr("height", pBottom - pMid)
    .attr("fill", "#808080").attr("fill-opacity", 0.55);

var rgx = res.append("g").attr("transform", "translate(0," + pBottom + ")")
    .call(d3.axisBottom(xScale).tickValues(xTicks.slice(1, -1)).tickSize(-(pBottom - pMid)).tickFormat(""));
var rgy = res.append("g").attr("transform", "translate(" + pLeft + ",0)")
    .call(d3.axisLeft(rScale).tickValues(resTicks).tickSize(-(pRight - pLeft)).tickFormat(""));
[rgx, rgy].forEach(g => {
  g.select(".domain").remove();
  g.selectAll("line").attr("stroke", gridColor).attr("stroke-width", 1.5);
});

var resPts = [];
function addRes(vals, start) {
  vals.forEach((v, i) => resPts.push([start + i * resStep, v]));
}
addRes(resLow, resLowStart);
addRes(resMid, resMidStart);
addRes(resHigh, resHighStart);
addRes(resLow2, resLow2Start);
addRes(resMid2, resMid2Start);
addRes(resHigh2, resHigh2Start);

res.selectAll(".rp").data(resPts).enter().append("circle")
    .attr("cx", d => xScale(d[0])).attr("cy", d => rScale(d[1]))
    .attr("r", 3)
    .attr("fill", "#000").attr("fill-opacity", 0.25)
    .attr("stroke", "#000").attr("stroke-opacity", 0.55).attr("stroke-width", 1);

res.append("line")
    .attr("x1", pLeft).attr("x2", pRight)
    .attr("y1", rScale(0)).attr("y2", rScale(0))
    .attr("stroke", "#000").attr("stroke-width", 2).attr("stroke-dasharray", "6,4");

// ---------- axes ----------
function styleAxis(g, size) {
  g.select(".domain").remove();
  g.selectAll("line").attr("stroke", "#000").attr("stroke-width", 2);
  g.attr("font-family", "DejaVu Sans, sans-serif");
  g.selectAll("text").attr("font-size", size).attr("fill", "#000");
}

styleAxis(svg.append("g").attr("transform", "translate(0," + pMid + ")")
    .call(d3.axisBottom(xScale).tickValues(xTicks).tickSize(-22).tickFormat("")), 32);

styleAxis(svg.append("g").attr("transform", "translate(0," + pBottom + ")")
    .call(d3.axisBottom(xScale).tickValues(xTicks).tickSize(-22).tickPadding(10)
          .tickFormat(d3.format("d"))), 32);

styleAxis(svg.append("g").attr("transform", "translate(" + pLeft + ",0)")
    .call(d3.axisLeft(yScale).tickValues(yDecades.map(d => Math.pow(10, d)))
          .tickSize(-22).tickFormat("")), 32);

// minor log ticks between the decades
var minorTicks = [];
yDecades.concat([-7]).forEach(d => {
  for (var m = 2; m < 10; m++) {
    var v = m * Math.pow(10, d);
    if (v < 1 && v > yScale.domain()[0]) minorTicks.push(v);
  }
});
styleAxis(svg.append("g").attr("transform", "translate(" + pLeft + ",0)")
    .call(d3.axisLeft(yScale).tickValues(minorTicks).tickSize(-11).tickFormat("")), 32);

styleAxis(svg.append("g").attr("transform", "translate(" + pLeft + ",0)")
    .call(d3.axisLeft(rScale).tickValues(resTicks).tickSize(-22).tickPadding(8)), 32);

// decade labels as 10 with a superscript exponent
var yLab = svg.append("g");
yDecades.forEach(d => {
  var t = yLab.append("text")
      .attr("x", 177).attr("y", yScale(Math.pow(10, d)) + 12)
      .attr("text-anchor", "end").attr("font-size", 33);
  t.append("tspan").text("10");
  t.append("tspan").attr("dy", -14).attr("font-size", 22)
      .text(d === 0 ? "0" : "\u2212" + (-d));
});

// frames
svg.append("rect").attr("x", pLeft).attr("y", pTop)
    .attr("width", pRight - pLeft).attr("height", pMid - pTop)
    .attr("fill", "none").attr("stroke", "#000").attr("stroke-width", 2.5);
svg.append("rect").attr("x", pLeft).attr("y", pMid)
    .attr("width", pRight - pLeft).attr("height", pBottom - pMid)
    .attr("fill", "none").attr("stroke", "#000").attr("stroke-width", 2.5);

// axis titles
svg.append("text").attr("x", (pLeft + pRight) / 2).attr("y", 857)
    .attr("text-anchor", "middle").attr("font-size", 45).text("Energy [keV]");

svg.append("text").attr("transform", "translate(95,690) rotate(-90)")
    .attr("text-anchor", "middle").attr("font-size", 45).text("Residual");

var rateLab = svg.append("text").attr("transform", "translate(80,310) rotate(-90)")
    .attr("text-anchor", "middle").attr("font-size", 46);
rateLab.append("tspan").text("Rate [keV");
rateLab.append("tspan").attr("dy", -19).attr("font-size", 32).text("\u22121");
rateLab.append("tspan").attr("dy", 19).text("kg");
rateLab.append("tspan").attr("dy", -19).attr("font-size", 32).text("\u22121");
rateLab.append("tspan").attr("dy", 19).text("d");
rateLab.append("tspan").attr("dy", -19).attr("font-size", 32).text("\u22121");
rateLab.append("tspan").attr("dy", 19).text("]");

// watermark
svg.append("text").attr("x", 472).attr("y", 493)
    .attr("font-family", "Liberation Sans, Arial, sans-serif")
    .attr("font-weight", "bold").attr("font-size", 95).attr("fill", "#000")
    .text("Preliminary");

// ---------- legend ----------
var legend = svg.append("g");
legend.append("rect").attr("x", 494).attr("y", 42).attr("width", 1010).attr("height", 113)
    .attr("rx", 5).attr("fill", "#fff").attr("fill-opacity", 0.8)
    .attr("stroke", "#cccccc").attr("stroke-width", 1.2);

var colX = [500, 716, 925, 1129];
var rowY = [61, 95, 129];
legendNames.forEach((name, i) => {
  var cx = colX[Math.floor(i / 3)], cy = rowY[i % 3];
  if (name === "Blinded") {
    legend.append("rect").attr("x", cx + 2).attr("y", cy - 8).attr("width", 48).attr("height", 17)
        .attr("fill", legendColors[i]).attr("fill-opacity", 0.55);
    var t = legend.append("text").attr("x", cx + 68).attr("y", cy + 8).attr("font-size", 22);
    t.append("tspan").text("Blinded for 0");
    t.append("tspan").attr("font-style", "italic").text("\u03bd\u03b2\u03b2");
    t.append("tspan").text(" and DEC");
  } else {
    legend.append("line").attr("x1", cx).attr("x2", cx + 50).attr("y1", cy).attr("y2", cy)
        .attr("stroke", legendColors[i]).attr("stroke-width", name === "Summed spectrum" ? 4 : 3);
    legend.append("text").attr("x", cx + 67).attr("y", cy + 8).attr("font-size", 22).text(name);
  }
});
</script>
</body>
</html>
